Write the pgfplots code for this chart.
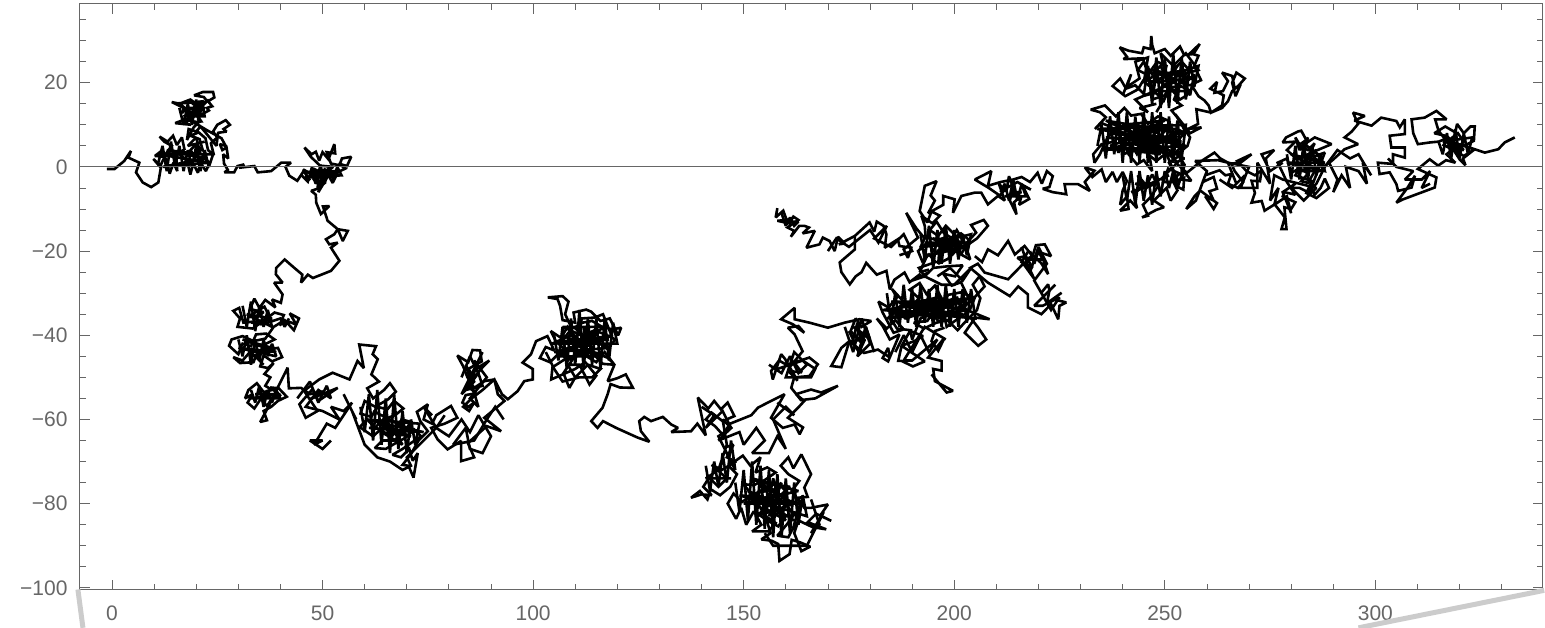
\documentclass[border=0pt]{standalone}
\usepackage{fontspec}
\setmainfont{Liberation Sans}
\usepackage{pgfplots}
\pgfplotsset{compat=1.18}
\definecolor{fr}{HTML}{666666}
\begin{document}
\begin{tikzpicture}
\path[use as bounding box] (-80pt,-37.5pt) rectangle (1465pt,589.5pt);
\begin{axis}[
  anchor=south west, at={(0pt,0pt)}, scale only axis, width=1462.5pt, height=585.5pt,
  xmin=-7.6, xmax=339.7, ymin=-100.4, ymax=38.7,
  clip=false,
  axis line style={fr,line width=1pt},
  xtick={0,50,100,150,200,250,300},
  xticklabels={0,50,100,150,200,250,300},
  minor xtick={10,20,30,40,60,70,80,90,110,120,130,140,160,170,180,190,210,220,230,240,260,270,280,290,310,320,330},
  ytick={-100,-80,-60,-40,-20,0,20},
  yticklabels={−100,−80,−60,−40,−20,0,20},
  minor ytick={-95,-90,-85,-75,-70,-65,-55,-50,-45,-35,-30,-25,-15,-10,-5,5,10,15,25,30,35},
  tick style={fr,line width=0.8pt},
  major tick length=10pt, minor tick length=6pt,
  tick align=inside,
  ticklabel style={font=\fontsize{21}{21}\selectfont, text=fr},
  xticklabel style={yshift=-13pt},
  yticklabel style={xshift=-9pt},
  cycle list={black,solid,mark=none,line width=2.6pt,line join=miter,miter limit=2\\},
]
\addplot[line width=5pt, color=black!20] coordinates {(-8.1,-100.4)(-6.9,-109.5)};
\addplot[line width=5pt, color=black!20] coordinates {(340.1,-100.6)(296,-109.5)};
\addplot coordinates {
(-1.2,-0.5)(0.6,-0.5)(1.2,0)(2.9,1.4)(4.5,3.8)(3.9,2.2)(6.5,1)(5.7,-1.3)(7.3,-3.7)(9.3,-4.8)(11,-3.7)(11.6,-0.2)
(9.8,1.9)(11.5,0.3)(12.5,2.4)(10.2,2.6)(12,4)(13,1.2)(13.7,-1.6)(14.6,1)(15.5,-1)(15.2,2.6)(13,3.4)(14.2,5)(12.4,6)(11.3,7.2)(13.2,6)(14.5,7.4)(15.4,5.2)(16.6,7)(17.2,4.2)(15.8,3.2)(17.8,1.6)(18.6,-1.8)(19.3,0.8)(20.4,-1.4)(21,1)(22.3,-1)(23.2,1)(21.4,2.4)(20,1.4)(18.8,3.8)(17.5,2.8)(19.8,5.2)(21.6,3.8)(20.8,6.6)(18.6,7.4)(20.6,8.2)(22.2,6.8)(22.8,4)(24.2,2.8)(23.5,5.6)(25,7)(24,8.4)(25,10)(27,11.1)(28,10)(26.5,9)(27.2,8.4)(25.2,8.1)(24.8,5)(22.5,7.8)(21,9.6)(20,8.4)(18.2,9)(17.8,6.4)(19.4,9.4)(20.6,10.6)(18.2,11)(17,10.3)(18.8,10)(15,10.4)(17.6,11.4)(19.5,12)(17.8,12.9)(19.8,13.2)(21,12.4)(19.4,14.4)(21.2,14.5)(19,15)(21.8,15.6)(17.8,15.2)(15.6,15.1)(14.2,15.4)(17,14)(16.6,12.8)(17.6,13.8)(16,15)(18.6,16)(20.3,14.8)(22.6,15.6)(21.8,16.6)(19.5,17)(21.6,17.8)(24,17.8)(24.3,16.5)(22.8,15.6)(23.8,14.4)(22.5,14)(23,13.4)(20.4,12)(21.2,10.8)(19.4,10.6)(22.4,8.8)(26,6.8)(27,5)(25.6,5.4)(26.2,4)(27.2,4.6)(27.6,2)(26.4,3)(26.6,0.8)(27.5,-0.7)(26.7,-1.3)
(29,-1.3)(29.8,0.2)(31.4,0.6)(30.2,-0.2)(33.8,0.2)(34.6,-1.3)(37.8,-1)(40.2,1)(42.5,1)(41.2,0)(42.1,-2.1)(44,-3.3)(45.5,-1)(47,-3.2)(45.4,-0.6)(47.5,-1.8)(48.4,-4)(49.5,-1.2)(50.6,-4)(47.8,-0.4)(51.5,-2.2)(52.4,-3.8)(53.5,-1.6)(50.5,-0.6)(48,-3)(49.3,-3.8)(51,-1.2)(52.5,0)(49.4,0.3)(47.2,2.4)(45.7,4.6)(47.4,3)(48.4,3.6)(49.2,1.5)(50,3.5)(51.4,1.8)(52.8,5.4)(53,3.2)(51,3.5)(52,0.8)(54,0.4)(54.6,2)(56.8,2.4)(55.8,0.2)(53.8,0.8)(55.4,-0.4)(52,-2)(50.6,-1.2)(50.2,-4.2)(49,-3.2)(48.8,-5.2)(47.3,-5.7)(48.4,-6.6)(48.5,-8.5)(49.6,-11.2)(51.6,-9.3)(50.1,-9.4)(51.2,-12.8)(53.6,-14.8)(56,-15.2)(54.8,-17.6)(53.6,-14.8)(52.8,-16)(50.8,-17.2)(51.6,-18.4)(53.6,-18)(52,-19.2)(54,-22.3)(52,-24.7)(47.7,-26.4)(46.5,-25.6)(44.9,-27.5)(45.2,-25.6)(43.3,-24)(41,-22)(39,-24)(38.9,-25.5)(40.5,-27.5)(38.5,-27.5)(40.5,-30.3)(40.1,-32.3)(38,-31.5)(38.8,-33.4)
(36.4,-31.6)(35,-33.5)(33.8,-31.3)(32.8,-33.8)(36,-34.5)(34.3,-35.8)(32.4,-35.6)(36.2,-33.2)(37.6,-36)(35.4,-37.4)(33.2,-36.8)(31.2,-37)(30.2,-33.5)(28.8,-34.2)(30.4,-36)(29.8,-38)(33.4,-38.4)(36.2,-36.4)(38.6,-34.6)(40.8,-35.2)(39.8,-37.6)(41.6,-36.6)(43.8,-37.5)(42.2,-34.8)(44.4,-36)(43.2,-38.8)(41,-36.4)(38.4,-38)(36.4,-40.8)(33.6,-41.4)(31,-40.2)(28.4,-41)(27.8,-42.5)(30,-44.5)(31,-42)(33,-42.6)(34.2,-39.8)(36.6,-39.6)(38.6,-41)(36.2,-42.2)(34.8,-45)(32.4,-44.4)(31,-46)(28.8,-45.2)(30.4,-46.6)(33.6,-46.4)(34.6,-43.8)(37,-43.4)(39.4,-43)(40.4,-45.2)(38,-46.2)(36,-44.8)(35.2,-47.4)(37,-47.8)(38.4,-46.6)(36.2,-49.2)(37.6,-50)(36.4,-52)
(38,-53)(36,-53.5)(34.4,-51.4)(32.4,-53)(31.6,-55)(33.4,-54)(32.2,-56)(33.8,-57.4)(35.4,-55)(36.8,-56.8)(38,-55)(39.8,-54.2)(37.6,-52.4)(39.6,-52.6)(41.5,-54.6)(39.4,-55.6)(37.8,-57)(36,-58)(36.8,-60.2)(35.2,-60.6)(36.6,-58)(41.7,-47.7)(42,-52.6)(44.9,-52.5)(47,-54)(50.4,-53.3)(47,-55.2)(53.6,-52.5)(49,-55.6)(47.6,-52.8)(44.5,-56.4)(46,-59.6)(48.8,-58)(45.6,-53.2)(49.2,-50.5)(52.4,-48.9)(56.4,-50.5)(58.3,-46.1)(59.8,-47.8)(58.7,-42.2)(62.7,-42.6)(61.9,-44.5)(63.1,-45.7)(61.6,-49.3)(63.4,-51)
(60.6,-52.6)(62,-55)(64.6,-53)(66,-51.4)(67.4,-53.4)(65.6,-55.2)(62.5,-57)(60,-55.6)(59,-58.6)(61.6,-59.4)(63,-57)(65.4,-57.6)(67,-55.6)(69.2,-57.4)(67.2,-59)(64.4,-60)(62.4,-62)(60.6,-60)(58.8,-61.8)(62,-64)(64.6,-61.6)(66.4,-63.4)(68.8,-60)(71,-60.6)(69.4,-62.8)(67,-65)(64.2,-65)(62.4,-66.8)(65,-67)(67.4,-65.6)(69.6,-64.4)(71.8,-62.4)(73.4,-64)(71,-65.6)(69,-67)(66.6,-68.4)(68.6,-69)(70.6,-67)(71.4,-69.8)(72.6,-68)(71.6,-73.8)(70.4,-71)(69,-70.8)(71,-68.2)(72.8,-65)(75,-62.8)(73.2,-60.4)(72.4,-58.2)(75,-56.4)(74,-60)(76,-61)(77,-59)(80.5,-56.8)(82,-59.6)(79,-61)(75.8,-62)(77.3,-64.7)(79.7,-67.1)(82.9,-65.1)(82.9,-69.9)(86,-69)(84.5,-65.6)(89,-61.6)(92.4,-62.8)(88.4,-59.6)(93.2,-55.6)(91.6,-54)(90.8,-50.5)(88.4,-50.9)
(86,-52.5)(84.4,-50)(83.4,-47.4)(82,-44.8)(84.6,-46.4)(85.6,-43.5)(87.4,-43.6)(87.8,-46.2)(84.6,-48)(86,-50)(88,-47.6)(89.6,-46)(86.4,-48)(84.4,-52)(86.4,-53.8)(84,-54.2)(83.2,-56)(84.6,-57)(86,-56)(84.8,-58)(83.4,-57)(85.4,-55)(88,-53)(90.8,-50.5)(92.6,-54)(94,-55.2)(96.3,-53.3)(97.9,-50.9)(99.9,-50.5)(99.9,-48)(97.5,-46.5)(99.5,-44.5)(100.7,-41.4)(103.4,-40.2)
(105,-43.6)(103,-42.8)(101.6,-45.4)(104,-46.4)(106.4,-44)(108.2,-46)(110.4,-44.2)(107.2,-49)(108.6,-52.5)(110,-50)(108.2,-47)(111,-47)(113.4,-51.7)(115,-49.6)(112.4,-46.4)(110,-48)(104.3,-50.5)(104.6,-47.6)(108,-45.4)(112,-44.6)(115,-46.4)(117,-44)(119.3,-47)(116.6,-46.8)(113.8,-44)(110.8,-42.6)(108,-43.8)(105.4,-41.4)(104.2,-39)(106.6,-40.6)(108.2,-38)(110.4,-40.8)(112.8,-42.6)(115.4,-41.6)(117.6,-43.2)(119.6,-41)(117,-39.8)(114.6,-38.8)(112,-40)(109.8,-38.2)(111.8,-37)(114,-36.6)(116.4,-38)(118.8,-38.6)(120.9,-38.2)(120.2,-40)(118.2,-36)(116,-36.6)(113.8,-34.4)(112.6,-33.9)(109.6,-34.6)(110,-37)(107,-36.4)(106.4,-33)(105.8,-31.4)(103.5,-31)(107,-30.7)(108.4,-32)(107.6,-35)(109.2,-38.4)(106.8,-41.4)(109,-41.4)(111.4,-41.4)(113.6,-40.2)(116,-41.4)(118.6,-40)(116.6,-35)(114.6,-35.8)(111.6,-36)(110.2,-41)(112.4,-43.4)(115,-44.2)(117.8,-45.4)(119.3,-47)(117.7,-50.9)(120,-50.2)(122,-49.3)(123.7,-52.5)(120.6,-52.4)(118.4,-51.6)(117.7,-54)(116.5,-57.2)(113.8,-60.4)(115.3,-62)(116.6,-60.4)(119.7,-62)(124.8,-64.3)(127.6,-65.3)(125.6,-62.8)(125.2,-60.4)(126.4,-59.4)(128,-60.4)(130.8,-59.4)(132.8,-61.2)(134.4,-62)(132.8,-63)(137.5,-62.8)
(139,-61)(141,-63.8)(139.1,-54.8)(141.6,-57.4)(143,-55.6)(144.6,-57.6)(146.2,-56)(147.8,-59.2)(145,-60.4)(142.4,-58.4)(141,-60)(143.2,-61.6)(145,-63.6)(146.8,-61)(151.8,-59)(153.4,-57.2)(156.5,-55.6)(159.7,-54)(156.5,-59.6)(159.3,-62)(162.1,-61.2)(163.3,-63.5)(164.1,-61.9)(160.5,-59.6)(163.3,-56.8)(164.4,-55.6)(162.4,-54)(166,-52.9)(168.4,-53.6)(172.4,-52)(167,-55)(163.6,-55.4)(161.3,-52.5)(162,-50)(165.6,-49.7)(167.6,-46.9)(165.6,-45.3)
(162,-46.5)(163.8,-48.8)(160.6,-48.5)(162.8,-50.8)(159.8,-45.6)(158.9,-44.5)(156.9,-50.5)(156.5,-48.5)(158.4,-46)(161,-47.5)(164,-43.8)(162.1,-39.8)(160.5,-38.2)(163,-37.8)(164.4,-39.4)(161.7,-37.4)(158.9,-36.2)(162.1,-33.5)(162.1,-36.2)(165.6,-37)(170,-38.2)(174,-37)(177.5,-36.2)(180.3,-36.6)(178,-38)(176.6,-36)(175.4,-39)(177.8,-41.6)(179.2,-39)(176,-42)(177.4,-44)(178.8,-41)(175.1,-41.4)(173.2,-43)(170.8,-47.3)(173.2,-47.6)(175.1,-41.4)(178.6,-44.2)(181.9,-43.4)
(184.7,-45.3)(184.3,-43)(183,-45.4)(184.3,-46.2)(187,-39.8)(184.7,-41)(183,-37.8)(181.6,-36)(184,-38.4)(186,-36.4)(188,-38.6)(185.6,-39.4)(183,-34.6)(182,-32)(184.4,-33.4)(186.4,-31)(185.2,-29)(187.4,-31.4)(189.6,-33.6)(191.6,-31.2)(189.4,-29.2)(191.8,-27.6)(193.4,-30.2)(195.4,-28.2)(197,-31.2)(194.4,-33)(191.2,-35)(188.6,-36)(186.4,-33.6)(188.4,-32.4)(192,-33.4)(195,-35.6)(198,-33.2)(200,-31)(202,-33.8)(204.4,-31)(201.6,-29.8)(198.6,-30.4)(196,-33)(193.6,-36.6)(190.4,-37)(192.8,-38.4)(195.8,-37)(198.4,-36.4)(200.8,-38.8)(203,-36.4)(205.4,-34)(206.2,-31.2)(204.4,-28)(206,-26)(207.2,-28.4)(205,-30.8)(203.6,-34.2)(201,-36)(198.2,-38)(197.6,-35)(195.4,-31.4)(192.4,-31.8)(190,-34.8)(187,-34)(184.6,-35.6)(186.4,-38.4)(189.6,-38.8)(187.5,-42.5)(186.7,-46.1)(187.5,-46.1)(190.2,-47.4)(193,-46.2)(187.5,-42.5)(190.5,-41.4)(192.6,-40.2)(189.6,-39)(190,-41)(192,-36)(194.6,-34.8)(196.4,-36.8)(198.8,-34.4)(201.4,-33.2)(203.8,-32)(201.6,-27.4)(199.4,-28.2)(197.4,-25.4)(200.2,-26)(202,-23.4)(198.6,-23.6)(195,-24)
(193,-26)(191.6,-24)(195.6,-22.6)(194,-20.8)(192.4,-22.4)(191.4,-20)(193.6,-18)(195.6,-20.4)(197.6,-18.6)(199.6,-20.8)(201.6,-18.6)(200,-16)(198,-14)(196.2,-16.4)(194.2,-15)(195.8,-13)(197.6,-15.8)(199.6,-17)(201.6,-15.8)(203.6,-17.4)(201.6,-20.8)(203.8,-22)(202.6,-18.4)(205.2,-15.6)(204,-13.8)(207,-12.6)(208,-14)(205.4,-17)(202.8,-18.8)(200.6,-15)(198.4,-18.6)(196.4,-20.6)(196.2,-23)(198.6,-21.8)(200.2,-19)(197.8,-16.8)(195.8,-17.4)(193.2,-16.6)(193,-14)(192.2,-11.6)(194.8,-13.4)(196.6,-11.6)(194.6,-10.6)(193.6,-13.2)(191.8,-10.5)(193,-4.5)(195.8,-3.4)(194.4,-6.8)(195.4,-8)(193.8,-11)(197.4,-9)(197.4,-6.9)(200.1,-7.7)(199.7,-10.9)(201.7,-6.9)(204.9,-6.1)(206.4,-6.1)(208,-8.9)(210.4,-6.9)
(212,-8)(210.6,-4)(212.4,-5.8)(213,-2.2)(214,-5)(213.2,-8)(214.8,-11.3)(214.2,-8.4)(216,-6.8)(215.4,-9)(217.8,-7.6)(216.2,-4.4)(218.2,-5.4)(215,-3.6)(212.4,-5)(210.8,-6.8)(208.2,-5)(204.9,-3)(208.8,-1)(208,-4.5)(211,-3.6)(214,-3)(216,-2.4)(218,-3.6)(219.8,-1.4)(220.8,-4)(222,-1)(223.4,-2.2)(222.6,-4.8)(221,-5.2)(223.4,-6)(226.6,-6.5)(226.2,-4.1)(229.4,-4.1)(232.2,-5.7)(231,-3.6)(233.3,-0.9)(231,-0.1)
(232.8,-2.4)(235,-0.6)(236,-3.6)(237.6,-1.2)(238.6,-3.6)(240,-1.2)(241,-3.4)(240,-5.6)(239.4,-9)(241,-7)(241.4,-10)(239.4,-10.4)(241.8,-8)(243.4,-9.8)(242.6,-6.4)(244.4,-5)(243.6,-2)(245.6,-4.4)(247,-1.8)(248.4,-4.6)(246.6,-7.2)(244.8,-9)(246,-11.6)(244.6,-12)(248,-10.2)(249.8,-9.6)(247.4,-8)(250.4,-5)(251.4,-8)(253,-5.6)(251.8,-3)(253.6,-1.6)(250.8,-0.4)(249.6,-3.6)(252,-3.6)(254.6,-2.6)(254.4,-5.4)(252.8,-4.6)(254.8,-1)
(252.6,1)(254.6,2)(252.4,3.2)(254,5)(251.4,4.6)(253.6,6.8)(254.4,7.8)(251.4,8)(252.4,6)(249.6,7)(248,5)(250,3)(248,1.4)(246,3)(247.6,5.4)(245.4,5)(243.4,3)(242,5.6)(244.6,7)(241.4,7.6)(240,6)(241.4,3)(243.4,0.6)(245,1.6)(247,-1)(246,4.6)(248.4,7)(250.6,9)(247.6,9.8)(245.6,8)(243,9.4)(240.6,10)(237.6,8.6)(236,6.2)(234.6,3)(233.3,1)(233,3)(235,5.4)(238,6)(239,3.4)(240.6,6)(237,9.6)(235,10.4)(233.4,9)(236,11.8)(234.6,13)(232.4,13.6)(235.8,14.6)(238.4,12)(240.4,14)(242,12.2)(244.4,12.6)(246,10.2)(248.4,12)(250.8,11)(252,8.6)(250.2,6)(248,8.4)(246.2,6)(244.2,8.4)(242.8,6)(246,4)(249,3.6)(247,6.8)(245,9.4)(249,9)(252.8,9)(255,8)(253.6,11)(251.6,13.4)(254,14.6)(252.2,16)(253,18)(250.8,18.8)(249.8,15.8)(247.8,17.6)(245.4,17)(243,19.4)(240.8,18.6)(239.4,21)(237.6,19.2)(240.6,16.8)(243.6,18.4)(244.8,20.4)(247.4,18.4)(245.6,22)(243.6,23)(245,25)(247,22)(249,24)(250.4,21)(252,23)(254,25)(255.8,23)(253.6,20)(256,19.4)(258.6,20.6)(257,24)(258,26.4)(256,27)(258.3,29.2)(256.8,26.8)(254.6,26.6)(253.6,28.6)(251.4,26.4)(250,28)(247.6,27)(247,29)(246.8,31.1)(246.6,28)(245,28.4)(244.6,27)(241.4,27.6)(239.3,28.4)(241,26.2)(240.2,25.6)(244.8,25.8)(246,22)(248.2,25)(250.4,24)(249.2,20)(251.6,18.4)(253.6,16)(255.2,17)(256.6,19)(258,16.8)(259.4,15.8)(260.4,14.6)(261,12.9)(263.6,14.6)(264,17)(260.8,18.6)(262.4,20.2)(261.8,17.6)(263.8,18)(265,20.4)(263.6,22.4)(266,21.6)(266.6,18.6)(268,19.6)(266.8,16.8)(266,20)(267,22.4)(269,21)(267.6,19.4)(266,18)(265,15.6)(263.6,14)(261,12.9)(257.5,13.7)(257.9,10.2)(255.5,9)(258.7,9.4)(256,8)(252.5,12.5)
(254,10)(256,7)(255.4,5)(253,3)(254.7,0.5)(253.8,-3)(256.3,-3.3)(255,-1.6)(258.7,1.4)(261.8,3.4)(263.2,2)(265,1)(262.6,1.6)(257.2,1.4)(260,-1)(259,-3.6)(261.6,-2.4)(262.4,-5.2)(260.6,-5.8)(261.6,-8)(259.6,-7)(261.6,-10)(262.4,-8.6)(258.4,-5.6)(257.1,-6.9)(255.1,-10)
(257.4,-8)(259.6,-2)(263,-0.8)(264.4,-2)(265.8,-1.7)(265,-4)(267.4,-5)(268.6,-3.6)(266.6,-1)(265.8,0.8)(268,1)(270.6,3)(267.2,1.4)(269.4,-1)(271.4,-2)(273,-0.8)(272.6,-3.4)(270.6,-3.3)(271.4,-6.2)(270.6,-8.5)(273,-8.1)(273.7,-10.4)(276.1,-8.9)(278.5,-12)(277.7,-14.8)(278.9,-14.8)(278.4,-9.6)(280,-10)(281,-8.4)(278,-7)(278.4,-6)(281,-6.6)(279,-3.6)(277.8,-1)(276.8,1)(279,2)(280,-1.4)(282,-0.4)(281.2,2)(279,4)(281,6)(278,5.8)(278.8,7)(281.6,8.4)(282.4,8.6)(283.6,6.4)(281.6,5)(284,4)(285.6,5.6)(283.8,2)(281.6,0)(284,-1.6)(282.4,-3.4)(284,-3.8)(285.6,-1)(287,1)(285.2,2.4)(288,3.4)(284.8,-4.9)(285.6,-6.6)(287,-5)(288,-2.8)(289,-5)(286,-7.4)(283.6,-6.2)(285,-3.4)(281,-2)(283,1.4)(285.8,3.8)(289.6,5.4)(285.6,7)(283.2,5.4)(286.4,3)(287.4,-0.2)(289.6,1.4)(292.7,4.2)(295.9,5.4)(292.7,7)(294.4,8.4)(295.9,10.2)(294.7,12.9)(297.5,12.1)(295,11)(299.1,9.8)(301.4,11.7)(305,10.9)(305.8,9.4)(307,11.3)(307,7.8)(303.4,7.4)(303.8,4.6)(307,4.6)(307,2.2)(304.2,3)(304.2,0.7)(300.6,1)(301,-1.7)(303.4,-1.3)(305,-4.1)(305.4,-5.7)(308.6,-4.9)(309.4,-2.1)(307.6,-5)(305,-8.5)(306.6,-7.7)(314.1,-4.9)(314.5,-2.5)(310.1,-0.5)(312.9,1.8)(314.9,0.3)(316.8,1.6)(319,1)(316.9,3)(319.5,5)(318,4)(316.6,7.4)(314,8)(316.6,9.6)(319,8.2)(319.4,10.2)(321,8)(322.6,9.6)(323.6,9.6)(323.4,6.2)(321,5)(323.6,4.2)(320.8,2)(321.4,0.4)(320,1.8)(318.6,4)(316.2,5.2)(317.6,7)(315,6)(312.9,5.8)(310.1,5.4)(309,8)(308.6,11.3)(311.7,11.7)(314.5,13.3)(316.9,11.3)(314.2,11.3)(315,8.6)(317,6)(319.6,8)(321,6)(319,3.8)(321,2.6)(323.6,4.2)(326,3.4)(329.2,4.2)(330.7,5.8)(333.1,7)
};
\addplot coordinates {
(158,-9.8)(157.6,-12)(159.4,-10.4)(160.2,-12.6)(158,-12.8)(160.8,-13.4)(161.8,-11.8)(163,-12.6)(160.4,-14.4)(162,-15.2)(161.2,-16.6)(163.2,-14)(164.4,-14)(165.5,-14.4)(164,-15.8)(166.9,-15.2)(164.9,-19.2)(168,-18.4)(168.8,-16.8)(170.4,-17.6)(171.6,-20)(172.4,-16.6)(174,-18.2)(172.6,-18.4)(176.4,-16.4)(179.9,-13.2)(181,-15.4)(181.6,-13)(183.2,-14)(183.9,-16)(183.5,-19.2)(186.6,-17.2)(187,-18.8)(189.8,-19.2)(189,-21.6)(188,-19.6)(191.4,-16.8)(188.6,-10.9)(191,-14.6)(193,-17)(192,-19)(193.6,-21)(191.8,-25)(194,-24.4)
};
\addplot coordinates {
(176.4,-16.4)(176.4,-19.6)(172.8,-22.7)(173.2,-25)(175.2,-27.9)(176.6,-26)(178,-25)(179.1,-22.8)(181.6,-25.6)(183.9,-24.7)(184.7,-29.1)(185.8,-26.8)(188.2,-25.1)(189.4,-27.4)(192,-25.4)
};
\addplot coordinates {
(204.9,-21.2)(206.6,-22.6)(208,-19.6)(210.4,-21)(212.8,-17.6)(214.4,-20.8)(216.7,-18.8)(218.6,-21.2)(219.4,-18.6)(221.5,-18.4)(223,-21.2)(220.6,-20.4)(222.3,-25.5)(220.6,-22.8)(217.6,-20)(216,-22.6)(218.6,-24)(217,-21.2)(215,-21.6)(217.5,-23.4)(219,-26.6)(216.4,-23)(212.8,-26.7)(207.2,-25.1)(205.6,-23)(203.8,-24)(208,-27.5)(213.2,-30.7)(215.2,-28.4)(217.5,-30.3)(217.5,-33.4)(220.7,-35)(223,-32.6)(224.7,-36.2)(225,-33)(226.6,-32.2)(223.4,-31.4)(225.5,-29.9)(222,-32.4)(222.6,-29.4)(222.3,-27.9)(220.6,-30)
};
\addplot coordinates {
(197.7,-38.2)(195.4,-39)(194.6,-41.4)(196.2,-43.7)(197.7,-40.6)(193.8,-45.3)(197,-46.1)(197,-48.4)(195,-48)(195.4,-50.9)(199.7,-53.2)(198.2,-53.6)(194.6,-49.3)
};
\addplot coordinates {
(203,-34)(208.4,-36.2)(205,-35.8)(202.5,-39.4)(205.7,-42.5)(207.6,-41)(205.7,-38.2)(204,-36)
};
\addplot coordinates {
(145.4,-66.7)(147.6,-66)(146,-69)(148.2,-70)(144.8,-72)(142.4,-70.8)(146,-74)(144,-76)(141.8,-73.8)(140.4,-76)(142.4,-78)(140,-77.8)(137.5,-78.6)(139.6,-77)(141.4,-79)(142.2,-76.6)(144.4,-78)(146.8,-76)(148.4,-73)(146.4,-71)(149.8,-68.6)(151.6,-71)(154,-69)(152.8,-72.6)(155.6,-71.4)(157.6,-72.6)(155,-74.4)(152.4,-75.6)(150,-75.4)(152,-78)(149.6,-79.6)(147.6,-77.6)(146.2,-80)(148.2,-83.6)(149.4,-81)(150.6,-85)(152.4,-81.8)(154.2,-85)(152,-86.6)(155.8,-86.6)(157.6,-84.6)(155,-82.8)(153.4,-80)(156,-78)(158.4,-75.4)(160.4,-77.4)(158.2,-79.6)(155.8,-79.8)(157.8,-82.6)(160,-80.2)(162,-82.6)(160.2,-85)(158,-87.6)(160.6,-88)(161.8,-85.6)(163.4,-80)(161.4,-77)(163.2,-74.6)(160.6,-73)(158.8,-71)(160.6,-69)(161.8,-71.6)(163.7,-68.3)(166,-73)(164.4,-76.2)(165.2,-78.4)(162.8,-78.6)(164.4,-81)(166,-81)(170,-80.2)(168.2,-82.8)(170.8,-84.1)(167.2,-82.4)(165.2,-84.4)(169.6,-86.1)(166.4,-85.6)(163,-84)(162,-87)(163.7,-91.3)(165.8,-90.2)(163.4,-89.2)(161.4,-88.6)(160.9,-92)(158.5,-93.6)(158.2,-89.6)(156.6,-88.8)(154.2,-88.5)(156.4,-87)(154.5,-81)(157,-76.6)(152.8,-77.6)(155.4,-76.2)(159.4,-78.2)(157,-81)(160,-83)(158.2,-85.4)(155.6,-84)(153.6,-82.6)
};
% denser passes of the walk through its tight clusters
\addplot coordinates {(11,1)(12,5)(13,-1)(14,6)(15,0)(16,5)(17,-1)(18,4)(19,0)(20,5)(21,-1)(22,4)(23,0)(24,3)(11,3)(23,1)(12,0)(22,2)(13,4)(21,3)(20,7)(18,5)(22,6)};
\addplot coordinates {(16,14)(17,10)(18,15)(19,10)(20,16)(20.5,11)(21.5,15)(22,12)(17,12)(22,14)(18,14)(21,13)(19,12)(23,16)};
\addplot coordinates {(45,-2)(46.5,-3.5)(47.5,0)(48.5,-4)(49.5,0.5)(50.5,-4)(51.5,0)(52.5,-3)(53.5,0)(54.5,-2)(45.5,-2.6)(54,-1)(46,-1.2)(53,-2.4)(47,-2)(52,-1)(49,-6)(50,-1)};
\addplot coordinates {(31,-33)(32,-38)(33,-32)(34,-39)(35,-33)(36,-38)(37,-34)(38,-38)(32,-35)(38,-36)(33,-37)(37,-37)(40,-36)(41,-38)(42,-36)};
\addplot coordinates {(30,-41)(31,-45)(32,-40)(33,-47)(34,-41)(35,-46)(36,-41)(37,-45)(38,-42)(39,-45)(30,-43)(39,-44)(31,-41)(38,-43)(33,-44)(36,-47)};
\addplot coordinates {(33,-53)(34,-56)(35,-52)(36,-57)(37,-53)(38,-56)(39,-53)(40,-55)(33,-55)(40,-54)(34,-54)(38,-54)};
\addplot coordinates {(59,-57)(60,-63)(61,-54)(62,-65)(63,-53)(64,-66)(65,-55)(66,-68)(67,-54)(68,-67)(69,-58)(70,-68)(71,-60)(72,-66)(73,-61)(60,-60)(74,-63)(61,-62)(72,-63)(62,-58)(70,-62)(63,-61)(71,-64)(64,-63)(69,-66)(65,-60)(68,-61)(66,-65)(67,-62)};
\addplot coordinates {(105,-40)(106,-46)(107,-38)(108,-48)(109,-36)(110,-47)(111,-34)(112,-48)(113,-36)(114,-47)(115,-36)(116,-48)(117,-36)(118,-46)(119,-37)(120,-42)(106,-42)(119,-40)(105,-44)(118,-43)(107,-38)(117,-38)(106,-45)(116,-45)(109,-43)(115,-39)(110,-45)(114,-43)(111,-39)(113,-45)(112,-38)(116,-42)(108,-41)(118,-41)(104.5,-42)(109,-40)(113,-42)(117,-40.5)};
\addplot coordinates {(148,-75)(149,-82)(150,-72)(151,-84)(152,-70)(153,-85)(154,-71)(155,-86)(156,-72)(157,-88)(158,-73)(159,-88)(160,-74)(161,-87)(162,-75)(163,-85)(164,-78)(165,-83)(149,-78)(164,-80)(150,-80)(163,-77)(152,-74)(162,-80)(153,-83)(161,-76)(154,-75)(160,-84)(155,-81)(159,-75)(156,-83)(158,-78)(157,-74)(156,-79)(151,-77)(162,-84)};
\addplot coordinates {(141,-71)(142,-77)(143,-70)(144,-76)(145,-68)(146,-75)(147,-65)(148,-72)(144,-64)(147,-62)(145,-60)(146,-66)(144,-72)(141,-74)(147,-74)};
\addplot coordinates {(184,-30)(185,-37)(186,-30)(187,-38)(188,-28)(189,-37)(190,-29)(191,-38)(192,-28)(193,-37)(194,-29)(195,-38)(196,-28)(197,-38)(198,-28)(199,-38)(200,-29)(201,-38)(202,-29)(203,-37)(204,-29)(205,-36)(183,-34)(205,-31)(184,-36)(204,-34)(185,-32)(203,-32)(186,-35)(202,-35)(187,-33)(200,-33)(190,-35)(198,-36)(192,-32)(196,-31)(188,-36)(201,-31)(191,-34)(197,-34)(194,-36)};
\addplot coordinates {(192,-16)(193,-22)(194,-14)(195,-24)(196,-15)(197,-23)(198,-14)(199,-23)(200,-15)(201,-22)(202,-16)(203,-21)(204,-16)(192,-19)(204,-18)(193,-18)(203,-19)(194,-21)(202,-18)(195,-17)(200,-20)(197,-19)(199,-17)};
\addplot coordinates {(234,5)(235,10)(236,2)(237,12)(238,3)(239,13)(240,1)(241,13)(242,1)(243,12)(244,1)(245,13)(246,1)(247,13)(248,1)(249,13)(250,1)(251,12)(252,1)(253,11)(254,2)(255,10)(234,9)(255,5)(235,4)(254,8)(236,11)(253,3)(237,5)(252,10)(238,9)(251,4)(239,6)(250,11)(240,10)(249,3)(241,4)(248,10)(242,8)(247,4)(243,10)(246,9)(244,4)(245,6)(236,7)(254,6)(237,8)(253,7)(240,3)(251,7)(243,6)(248,6)};
\addplot coordinates {(245,17)(246,24)(247,15)(248,26)(249,14)(250,26)(251,14)(252,27)(253,15)(254,26)(255,16)(256,25)(257,19)(258,24)(246,20)(257,21)(247,23)(256,18)(248,18)(255,23)(249,22)(254,19)(250,19)(253,24)(251,22)(252,20)(243,16)(246,13)(244,14)(248,15)};
\addplot coordinates {(240,-2)(241,-8)(242,-1)(243,-9)(244,-1)(245,-8)(246,-2)(247,-9)(248,-1)(249,-7)(250,-1)(251,-5)(252,-1)(253,-5)(254,-2)(254,3)(251,1)(253,-3)(250,4)(253,1)(249,-3)(251,-2)(242,-6)(248,-4)(243,-4)(246,-5)};
\addplot coordinates {(279,3)(280,-3)(281,5)(282,-3)(283,6)(284,-3)(285,5)(286,-2)(287,3)(288,-1)(279,1)(288,1)(280,3)(287,-1)(281,-1)(286,4)(282,2)(285,0)(283,-1)(284,2)(281,7)(282,4)(284,7)(283,3)};
\addplot coordinates {(315,6)(316,3)(317,8)(318,2)(319,9)(320,2)(321,8)(322,3)(323,7)(316,6)(322,5)(317,5)(321,4)(319,6)};
\addplot coordinates {(175,-39)(176,-41)(177,-37)(178,-42)(179,-38)(180,-41)(176,-38)(179,-40)};
\addplot coordinates {(211,-6)(212,-4)(213,-8)(214,-3)(215,-8)(216,-4)(217,-7)(212,-7)(216,-6)(214,-6)};
\addplot coordinates {(159,-11)(160,-14)(161,-12)(162,-14)(163,-13)(159,-13)(162,-12)};
\addplot coordinates {(218,-20)(219,-23)(220,-20)(221,-22)(217,-22)(219,-21)};
% further wandering through the looser parts of the clusters
\addplot coordinates {(240,17)(242,22)(241,19)(244,21)(243,25)(246,26)(245,20)(248,22)(247,16)(250,17)(252,21)(255,20)(257,22)(256,17)(254,22)(258,23)(255,27)(252,24)(249,27)(251,18)(248,13)};
\addplot coordinates {(289,1)(291,-3)(290,-6)(292,-2)(294,-5)(293,0)(296,-1)(298,-4)(297,1)(299,-2)(296,3)(294,2)(291,4)(288,0)(286,-4)(284,-6)(282,-5)(280,-5)(283,-8)(286,-5)(278,-3)(276,-2)(275,-8)(277,-5)(276,-9)(279,-7)(280,-11)(278,-6)(281,-4)};
\addplot coordinates {(83,-50)(85,-45)(87,-49)(84,-53)(88,-52)(86,-46)(89,-50)(85,-55)(87,-57)(84,-47)(86,-51)(83,-54)(88,-44)};
\addplot coordinates {(79,-59)(77,-62)(80,-64)(83,-60)(85,-63)(87,-59)(90,-64)(88,-68)(85,-67)(84,-62)(81,-66)(86,-65)(89,-60)(91,-57)(93,-60)};
\addplot coordinates {(44,-55)(47,-51)(49,-56)(51,-52)(52,-55)(49,-53)(46,-57)(50,-58)(54,-60)(52,-57)(55,-58)(57,-56)(53,-62)(51,-61)(48,-66)(50,-65)(47,-65)(50,-67)(52,-65)};
\addplot coordinates {(140,-57)(143,-59)(141,-62)(145,-58)(147,-62)(144,-65)(149,-63)(150,-66)(153,-62)(155,-65)(152,-68)(156,-68)(158,-64)(160,-67)(157,-60)(160,-57)(162,-59)(158,-56)};
\addplot coordinates {(156,-47)(159,-49)(161,-45)(163,-49)(165,-47)(162,-44)(160,-50)(166,-50)(167,-48)(164,-46)(158,-48)};
\addplot coordinates {(166,-79)(168,-85)(166,-87)(169,-82)(165,-90)(162,-90)(160,-90)(157,-90)(155,-87)};
\addplot coordinates {(174,-38)(176,-44)(178,-36)(180,-42)(177,-45)(179,-38)(181,-44)};
\addplot coordinates {(186,-44)(188,-40)(190,-44)(192,-40)(194,-44)(196,-41)(190,-46)(188,-46)(193,-38)(198,-41)};
\addplot coordinates {(196,-26)(199,-24)(202,-27)(204,-24)(200,-28)(197,-28)(193,-26)(190,-27)(194,-25)};
\addplot coordinates {(216,-19)(218,-25)(220,-19)(222,-23)(219,-27)(223,-34)(225,-31)(221,-33)(219,-33)(224,-28)};
\addplot coordinates {(170,-20)(172,-17)(175,-19)(180,-15)(182,-18)(184,-14)(181,-17)(185,-19)(188,-16)(190,-20)(187,-21)};
\addplot coordinates {(263,-3)(266,-5)(269,-2)(267,-4)(265,1)(270,0)(268,-5)(272,-5)(272,1)(275,-4)(274,2)(276,4)(273,3)(275,-1)(278,1)};
\addplot coordinates {(303,2)(305,0)(309,-1)(307,-3)(311,-3)(313,-1)(311,-5)(313,-4)};
\addplot coordinates {(56,-56)(58,-60)(55,-54)(57,-58)(60,-66)(63,-69)(66,-70)(69,-72)(71,-71)(70,-69)(74,-65)(77,-62)(74,-57)(76,-59)};
\addplot coordinates {(103,-44)(105,-48)(107,-51)(111,-50)(114,-50)(116,-48)(113,-47)(110,-50)};
\addplot[fr, line width=0.9pt] coordinates {(-7.6,0)(339.7,0)};
\end{axis}
\end{tikzpicture}
\end{document}
